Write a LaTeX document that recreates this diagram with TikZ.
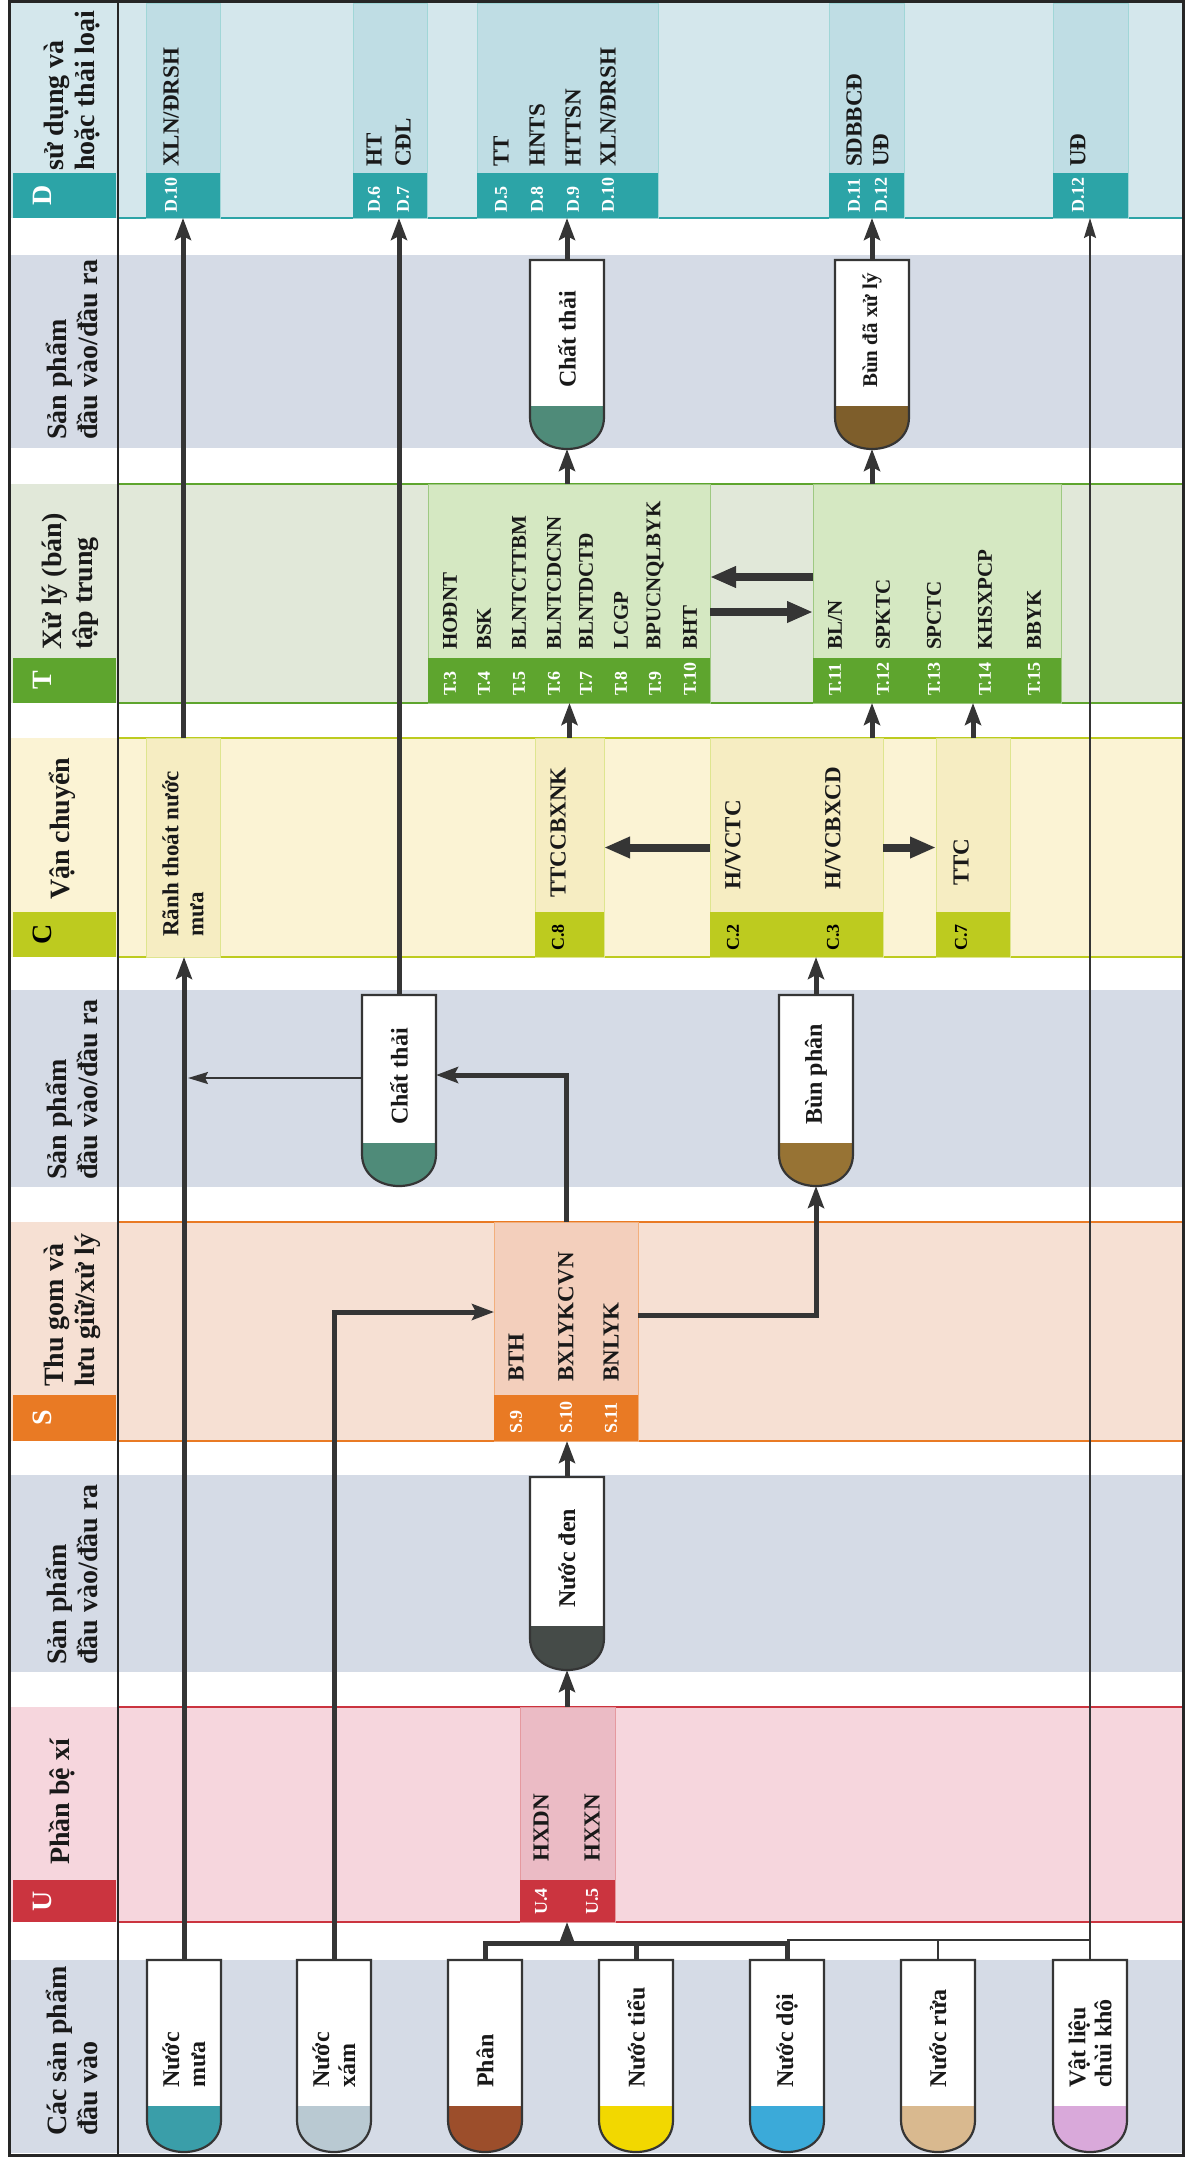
\documentclass[tikz,border=0pt]{standalone}
\usepackage{fontspec}
\setmainfont{Liberation Serif}
\usetikzlibrary{arrows.meta,calc}
\definecolor{bandgray}{HTML}{D5DBE6}
\definecolor{Dband}{HTML}{D4E7EC}
\definecolor{Dsub}{HTML}{BFDDE4}
\definecolor{Dbox}{HTML}{2CA4A7}
\definecolor{Tband}{HTML}{E1E8D9}
\definecolor{Tsub}{HTML}{D5E8C2}
\definecolor{Tbox}{HTML}{5EA52E}
\definecolor{Cband}{HTML}{FBF3D4}
\definecolor{Csub}{HTML}{F6EDC2}
\definecolor{Cbox}{HTML}{BDCB1F}
\definecolor{Sband}{HTML}{F6E0D3}
\definecolor{Ssub}{HTML}{F3CFBC}
\definecolor{Sbox}{HTML}{E97A24}
\definecolor{Uband}{HTML}{F6D6DD}
\definecolor{Usub}{HTML}{EBBBC5}
\definecolor{Ubox}{HTML}{CB343F}
\definecolor{lc}{HTML}{353535}
\definecolor{cMua}{HTML}{3A9EA9}
\definecolor{cXam}{HTML}{B9C9D2}
\definecolor{cPhan}{HTML}{9C4E2B}
\definecolor{cTieu}{HTML}{F2D800}
\definecolor{cDoi}{HTML}{3BAAD9}
\definecolor{cRua}{HTML}{D9B98F}
\definecolor{cVL}{HTML}{D9A9DA}
\definecolor{cDen}{HTML}{454B48}
\definecolor{cChat}{HTML}{4F8B79}
\definecolor{cBun}{HTML}{977334}
\definecolor{cBunB}{HTML}{7E5E2B}
\tikzset{
  ccodestyle/.style={rotate=90, anchor=west, inner sep=0pt, font=\fontsize{23}{25}\selectfont\bfseries, text=black!90},
  tcodestyle/.style={rotate=90, anchor=west, inner sep=0pt, font=\fontsize{21}{23}\selectfont\bfseries, text=black!90},
  numstyle/.style={rotate=90, anchor=west, inner sep=0pt, font=\fontsize{18}{20}\selectfont\bfseries, text=white},
  labstyle/.style={rotate=90, anchor=west, inner sep=0pt, align=left, font=\fontsize{28}{31}\selectfont\bfseries, text=black!90},
  letterstyle/.style={rotate=90, inner sep=0pt, font=\fontsize{28}{30}\selectfont\bfseries},
  tubetext/.style={rotate=90, anchor=west, inner sep=0pt, align=left, font=\fontsize{24}{26}\selectfont\bfseries, text=black!90},
  conn/.style={draw=lc, line width=5pt},
  arr/.style={draw=lc, line width=5pt, -{Stealth[length=22pt,width=16pt,inset=4pt]}},
  bigarr/.style={draw=lc, line width=8pt, -{Triangle[length=26pt,width=20pt]}},
  thinline/.style={draw=lc, line width=1.6pt},
  thinarr/.style={draw=lc, line width=2pt, -{Stealth[length=20pt,width=12pt,inset=3pt]}},
}
\newcommand\subcol[7]{% name x1 y1 x2 y2 fill border
  \node[inner sep=0pt,outer sep=0pt,fill=#6,draw=#7,line width=0.8pt,
    minimum width={(#4-#2)*1pt},minimum height={(#5-#3)*1pt}]
    (#1) at ({(#2+#4)/2},{(#3+#5)/2}) {};}
\newcommand\ccode[4]{\node[ccodestyle] (#1) at (#2,#3) {#4};}
\newcommand\tcode[4]{\node[tcodestyle] (#1) at (#2,#3) {#4};}
\newcommand\cnum[4]{\node[numstyle] (#1) at (#2,#3) {#4};}
\newcommand\tube[8][]{% [text opts] name cx top bottom fillstart colour label
  \fill[white] (#3-37,#4) rectangle (#3+37,#6);
  \fill[#7] (#3-37,#6) -- (#3-37,#5-32) .. controls (#3-37,#5-10) and (#3-18,#5) .. (#3,#5)
     .. controls (#3+18,#5) and (#3+37,#5-10) .. (#3+37,#5-32) -- (#3+37,#6) -- cycle;
  \draw[line width=2.2pt,lc] (#3-37,#4) -- (#3-37,#5-32) .. controls (#3-37,#5-10) and (#3-18,#5) .. (#3,#5)
     .. controls (#3+18,#5) and (#3+37,#5-10) .. (#3+37,#5-32) -- (#3+37,#4) -- cycle;
  \node[inner sep=0pt,outer sep=0pt,minimum width=74pt,minimum height={(#5-#4)*1pt}] (#2) at (#3,{(#4+#5)/2}) {};
  \node[tubetext,#1] (#2t) at (#3,#6-18) {#8};
}
\begin{document}
\begin{tikzpicture}[x=1pt,y=-1pt]
\useasboundingbox (0,0) rectangle (1191,2157);
\fill[white] (0,0) rectangle (1191,2157);
% ---------- bands
\fill[Dband] (11,3) rectangle (1182,218);
\fill[bandgray] (11,255) rectangle (1182,448);
\fill[Tband] (11,484) rectangle (1182,703);
\fill[Cband] (11,738) rectangle (1182,957);
\fill[bandgray] (11,990) rectangle (1182,1187);
\fill[Sband] (11,1222) rectangle (1182,1441);
\fill[bandgray] (11,1475) rectangle (1182,1672);
\fill[Uband] (11,1707) rectangle (1182,1922);
\fill[bandgray] (11,1960) rectangle (1182,2153);
% band edge lines
\draw[Dbox, line width=2pt] (118,218) -- (1182,218);
\draw[Tbox, line width=2pt] (118,484) -- (1182,484);
\draw[Tbox, line width=2pt] (118,703) -- (1182,703);
\draw[Cbox, line width=2pt] (118,738) -- (1182,738);
\draw[Cbox, line width=2pt] (118,957) -- (1182,957);
\draw[Sbox, line width=2pt] (118,1222) -- (1182,1222);
\draw[Sbox, line width=2pt] (118,1441) -- (1182,1441);
\draw[Ubox, line width=2pt] (118,1707) -- (1182,1707);
\draw[Ubox, line width=2pt] (118,1922) -- (1182,1922);
% ---------- left label column
\fill[Dbox] (13,173) rectangle (116,218);
\fill[Tbox] (13,658) rectangle (116,703);
\fill[Cbox] (13,912) rectangle (116,957);
\fill[Sbox] (13,1395) rectangle (116,1441);
\fill[Ubox] (13,1880) rectangle (116,1922);
\node[letterstyle,text=white] (lD) at (42,195.5) {D};
\node[letterstyle,text=white] (lT) at (42,680.5) {T};
\node[letterstyle,text=black] (lC) at (42,934.5) {C};
\node[letterstyle,text=white] (lS) at (42,1418) {S};
\node[letterstyle,text=white] (lU) at (42,1901) {U};
\begin{scope}
\clip (13,5) rectangle (116,218);
\node[labstyle] (labD) at (72,171) {sử dụng và\\hoặc thải loại};
\end{scope}
\node[labstyle] (labP1) at (72,440) {Sản phẩm\\đầu vào/đầu ra};
\node[labstyle] (labT) at (70,650) {Xử lý (bán)\\tập trung};
\node[labstyle] (labC) at (62,900) {Vận chuyển};
\node[labstyle] (labP2) at (72,1180) {Sản phẩm\\đầu vào/đầu ra};
\node[labstyle] (labS) at (72,1387) {Thu gom và\\lưu giữ/xử lý};
\node[labstyle] (labP3) at (72,1665) {Sản phẩm\\đầu vào/đầu ra};
\node[labstyle] (labU) at (62,1865) {Phần bệ xí};
\node[labstyle] (labIn) at (72,2136) {Các sản phẩm\\đầu vào};
% ---------- D sub-columns
\subcol{D10a}{146}{3}{220}{218}{Dsub}{Dbox!45}
\subcol{D67}{353}{3}{427}{218}{Dsub}{Dbox!45}
\subcol{D5}{477}{3}{658}{218}{Dsub}{Dbox!45}
\subcol{D11}{829}{3}{904}{218}{Dsub}{Dbox!45}
\subcol{D12b}{1053}{3}{1128}{218}{Dsub}{Dbox!45}
\fill[Dbox] (146,173) rectangle (220,218);
\fill[Dbox] (353,173) rectangle (427,218);
\fill[Dbox] (477,173) rectangle (658,218);
\fill[Dbox] (829,173) rectangle (904,218);
\fill[Dbox] (1053,173) rectangle (1128,218);
\ccode{xd1}{171}{167}{XLN/ĐRSH}\cnum{nd1}{171}{213}{D.10}
\ccode{xd2}{374}{167}{HT}\cnum{nd2}{374}{213}{D.6}
\ccode{xd3}{403}{167}{CĐL}\cnum{nd3}{403}{213}{D.7}
\ccode{xd4}{501}{167}{TT}\cnum{nd4}{501}{213}{D.5}
\ccode{xd5}{537}{167}{HNTS}\cnum{nd5}{537}{213}{D.8}
\ccode{xd6}{573}{167}{HTTSN}\cnum{nd6}{573}{213}{D.9}
\ccode{xd7}{608}{167}{XLN/ĐRSH}\cnum{nd7}{608}{213}{D.10}
\ccode{xd8}{854}{167}{SDBBCĐ}\cnum{nd8}{854}{213}{D.11}
\ccode{xd9}{881}{167}{UĐ}\cnum{nd9}{881}{213}{D.12}
\ccode{xd10}{1078}{167}{UĐ}\cnum{nd10}{1078}{213}{D.12}
% ---------- T sub-columns
\subcol{Tleft}{428}{484}{710}{703}{Tsub}{Tbox!60}
\subcol{Tright}{813}{484}{1061}{703}{Tsub}{Tbox!60}
\fill[Tbox] (428,658) rectangle (710,703);
\fill[Tbox] (813,658) rectangle (1061,703);
\tcode{xt3}{450}{650}{HOĐNT}\cnum{nt3}{450}{696}{T.3}
\tcode{xt4}{484}{650}{BSK}\cnum{nt4}{484}{696}{T.4}
\tcode{xt5}{519}{650}{BLNTCTTBM}\cnum{nt5}{519}{696}{T.5}
\tcode{xt6}{554}{650}{BLNTCDCNN}\cnum{nt6}{554}{696}{T.6}
\tcode{xt7}{586}{650}{BLNTDCTĐ}\cnum{nt7}{586}{696}{T.7}
\tcode{xt8}{621}{650}{LCGP}\cnum{nt8}{621}{696}{T.8}
\tcode{xt9}{655}{650}{BPUCNQLBYK}\cnum{nt9}{655}{696}{T.9}
\tcode{xt10}{690}{650}{BHT}\cnum{nt10}{690}{696}{T.10}
\tcode{xt11}{835}{650}{BL/N}\cnum{nt11}{835}{696}{T.11}
\tcode{xt12}{883}{650}{SPKTC}\cnum{nt12}{883}{696}{T.12}
\tcode{xt13}{934}{650}{SPCTC}\cnum{nt13}{934}{696}{T.13}
\tcode{xt14}{985}{650}{KHSXPCP}\cnum{nt14}{985}{696}{T.14}
\tcode{xt15}{1034}{650}{BBYK}\cnum{nt15}{1034}{696}{T.15}
% ---------- C sub-columns
\subcol{Rmua}{146}{738}{220}{957}{Csub}{Cbox!50}
\subcol{TTCC}{535}{738}{604}{957}{Csub}{Cbox!50}
\subcol{HVC}{710}{738}{883}{957}{Csub}{Cbox!50}
\subcol{TTC}{936}{738}{1010}{957}{Csub}{Cbox!50}
\fill[Cbox] (535,912) rectangle (604,957);
\fill[Cbox] (710,912) rectangle (883,957);
\fill[Cbox] (936,912) rectangle (1010,957);
\node[tubetext,font=\fontsize{23}{25}\selectfont\bfseries] (xrm) at (183,937) {Rãnh thoát nước\\mưa};
\ccode{xc8}{558}{898}{TTCCBXNK}\node[numstyle,text=black] (nc8) at (558,951) {C.8};
\ccode{xc2}{733}{890}{H/VCTC}\node[numstyle,text=black] (nc2) at (733,951) {C.2};
\ccode{xc3}{833}{890}{H/VCBXCD}\node[numstyle,text=black] (nc3) at (833,951) {C.3};
\ccode{xc7}{961}{886}{TTC}\node[numstyle,text=black] (nc7) at (961,951) {C.7};
% ---------- S sub-column
\subcol{Scol}{494}{1222}{638}{1441}{Ssub}{Sbox!60}
\fill[Sbox] (494,1395) rectangle (638,1441);
\ccode{xs9}{516}{1382}{BTH}\cnum{ns9}{516}{1434}{S.9}
\ccode{xs10}{566}{1382}{BXLYKCVN}\cnum{ns10}{566}{1434}{S.10}
\ccode{xs11}{611}{1382}{BNLYK}\cnum{ns11}{611}{1434}{S.11}
% ---------- U sub-column
\subcol{Ucol}{520}{1707}{615}{1922}{Usub}{Ubox!50}
\fill[Ubox] (520,1880) rectangle (615,1922);
\ccode{xu4}{541}{1862}{HXDN}\cnum{nu4}{541}{1915}{U.4}
\ccode{xu5}{592}{1862}{HXXN}\cnum{nu5}{592}{1915}{U.5}
% ---------- tubes
\tube{mua}{184}{1960}{2152}{2106}{cMua}{Nước\\mưa}
\tube{xam}{334}{1960}{2152}{2106}{cXam}{Nước\\xám}
\tube{phan}{485}{1960}{2152}{2106}{cPhan}{Phân}
\tube{tieu}{636}{1960}{2152}{2106}{cTieu}{Nước tiểu}
\tube{doi}{787}{1960}{2152}{2106}{cDoi}{Nước dội}
\tube{rua}{938}{1960}{2152}{2106}{cRua}{Nước rửa}
\tube{vl}{1090}{1960}{2152}{2106}{cVL}{Vật liệu\\chùi khô}
\tube{nden}{567}{1477}{1670}{1626}{cDen}{Nước đen}
\tube{chat2}{399}{995}{1186}{1143}{cChat}{Chất thải}
\tube{bunphan}{816}{995}{1186}{1143}{cBun}{Bùn phân}
\tube{chat1}{567}{260}{449}{406}{cChat}{Chất thải}
\tube[font=\fontsize{21}{23}\selectfont\bfseries]{bun1}{872}{260}{449}{406}{cBunB}{Bùn đã xử lý}
% ---------- connectors
\coordinate (bar) at (567,1943);
\coordinate (rl) at (938,1940);
\coordinate (xamturn) at (334,1312);
\coordinate (sturn) at (566,1075);
\coordinate (sbturn) at (816,1315);
\coordinate (ctl) at (188,1078);
\coordinate (ta) at (760,577);
\coordinate (tb) at (760,612);
% inputs
\draw[arr] (mua.north) -- (mua.north |- Rmua.south);
\draw[arr] (Rmua.north) -- (Rmua.north |- D10a.south);
\draw[arr] (xam.north) -- (xamturn) -- (xamturn -| Scol.west);
\draw[conn] (phan.north) |- (bar -| doi.north) -- (doi.north);
\draw[conn] (tieu.north) -- (tieu.north |- bar);
\draw[arr] (bar) -- (bar |- Ucol.south);
\draw[thinline] (rua.north) -- (rl);
\draw[thinline] (doi.north |- rl) -- (vl.north |- rl);
\draw[thinarr] (vl.north) -- (vl.north |- D12b.south);
% U -> S
\draw[arr] (nden.south |- Ucol.north) -- (nden.south);
\draw[arr] (nden.north) -- (nden.north |- Scol.south);
% S -> products
\draw[arr] (Scol.north) -- (Scol.north |- sturn) -- (sturn -| chat2.east);
\draw[arr] (sbturn -| Scol.east) -- (sbturn) -- (bunphan.south);
\draw[thinarr] (ctl -| chat2.west) -- (ctl);
\draw[arr] (chat2.north) -- (chat2.north |- D67.south);
\draw[arr] (bunphan.north) -- (bunphan.north |- HVC.south);
% C
\draw[bigarr] (HVC.west) -- (TTCC.east);
\draw[bigarr] (HVC.east) -- (TTC.west);
\draw[arr] (TTCC.north) -- (TTCC.north |- Tleft.south);
\draw[arr] (HVC.north -| bun1.south) -- (Tright.south -| bun1.south);
\draw[arr] (TTC.north) -- (TTC.north |- Tright.south);
% T
\draw[bigarr] (ta -| Tright.west) -- (ta -| Tleft.east);
\draw[bigarr] (tb -| Tleft.east) -- (tb -| Tright.west);
\draw[arr] (Tleft.north -| chat1.south) -- (chat1.south);
\draw[arr] (Tright.north -| bun1.south) -- (bun1.south);
\draw[arr] (chat1.north) -- (chat1.north |- D5.south);
\draw[arr] (bun1.north) -- (bun1.north |- D11.south);
% ---------- frame
\draw[black!85, line width=2.5pt] (118,2) -- (118,2155);
\draw[black!85, line width=3pt] (9,2) rectangle (1183,2155);
\end{tikzpicture}
\end{document}
